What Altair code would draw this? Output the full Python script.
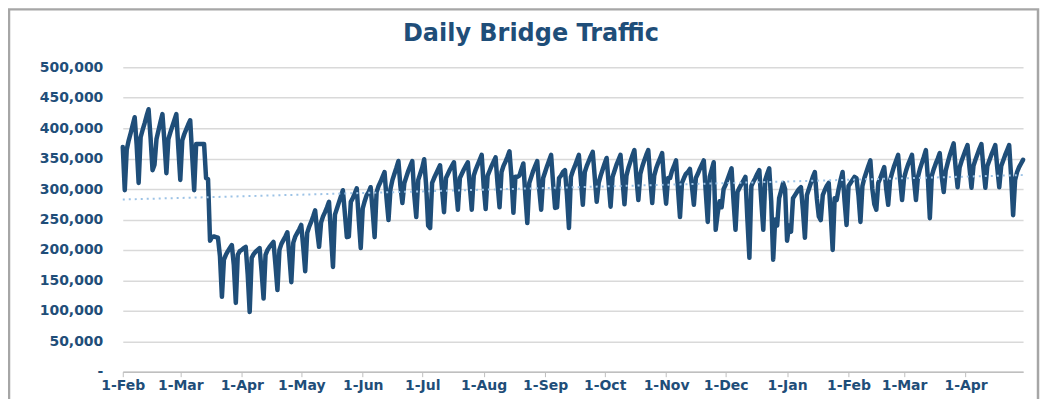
import altair as alt
import pandas as pd

# Daily traffic in thousands, one row per week (Sat, Sun, Mon, Tue, Wed, Thu, Fri)
# starting Saturday 1-Feb-2020
traffic_feb_may_2020 = [
    [369, 298, 365, 380, 392, 405, 418],
    [372, 310, 385, 397, 408, 420, 431],
    [385, 331, 340, 382, 396, 410, 423],
    [378, 326, 382, 393, 403, 413, 423],
    [368, 315, 380, 390, 398, 406, 413],
    [355, 298, 374, 374, 374, 374, 374],
    [318, 316, 215, 221, 222, 221, 220],
    [190, 123, 184, 192, 198, 203, 208],
    [175, 113, 192, 198, 200, 203, 205],
    [160, 98, 187, 193, 197, 200, 203],
    [165, 120, 192, 200, 205, 209, 213],
    [175, 134, 200, 210, 216, 222, 229],
    [190, 147, 212, 222, 228, 234, 241],
    [205, 165, 228, 238, 246, 255, 265],
    [232, 205, 245, 255, 262, 270, 279],
    [225, 172, 258, 268, 278, 288, 298],
]
traffic_may_aug_2020 = [
    [260, 221, 222, 279, 285, 293, 301],
    [250, 203, 268, 280, 290, 295, 303],
    [265, 221, 295, 305, 312, 320, 328],
    [285, 249, 300, 315, 325, 335, 346],
    [305, 277, 310, 320, 330, 338, 346],
    [290, 254, 315, 325, 335, 349, 305],
    [240, 236, 310, 318, 325, 332, 339],
    [300, 262, 318, 325, 332, 338, 344],
    [302, 266, 318, 325, 332, 338, 344],
    [305, 266, 322, 332, 340, 348, 356],
    [305, 267, 322, 330, 338, 345, 352],
    [308, 270, 328, 338, 345, 353, 362],
    [320, 261, 320, 320, 322, 332, 342],
    [290, 244, 310, 320, 330, 338, 346],
    [300, 266, 318, 328, 338, 347, 356],
    [310, 269, 270, 318, 322, 328, 331],
]
traffic_sep_dec_2020 = [
    [290, 236, 320, 330, 338, 347, 356],
    [315, 274, 328, 338, 346, 354, 361],
    [320, 279, 310, 322, 332, 342, 351],
    [310, 271, 320, 330, 340, 348, 356],
    [315, 275, 322, 335, 345, 355, 364],
    [320, 282, 325, 337, 347, 356, 364],
    [318, 277, 322, 334, 343, 351, 359],
    [310, 276, 318, 318, 330, 338, 347],
    [300, 254, 310, 318, 325, 328, 333],
    [305, 274, 318, 325, 333, 340, 347],
    [295, 246, 320, 332, 344, 233, 260],
    [280, 270, 300, 307, 316, 325, 334],
    [280, 233, 295, 302, 308, 314, 320],
    [250, 187, 305, 312, 318, 325, 331],
    [280, 233, 315, 325, 334, 280, 184],
    [250, 240, 285, 297, 310, 300, 215],
]
traffic_jan_apr_2021 = [
    [240, 230, 285, 290, 295, 300, 303],
    [265, 220, 290, 300, 310, 320, 328],
    [285, 255, 249, 290, 298, 305, 310],
    [260, 200, 285, 282, 300, 315, 328],
    [280, 241, 305, 310, 315, 320, 318],
    [290, 246, 305, 318, 328, 338, 347],
    [300, 275, 266, 310, 318, 327, 336],
    [300, 274, 315, 327, 338, 347, 356],
    [315, 282, 318, 330, 340, 348, 356],
    [315, 282, 320, 333, 343, 353, 364],
    [318, 252, 322, 333, 342, 350, 359],
    [320, 295, 330, 343, 355, 365, 375],
    [335, 303, 335, 346, 355, 364, 372],
    [335, 302, 338, 348, 357, 366, 374],
    [335, 302, 338, 347, 356, 364, 372],
    [335, 303, 338, 347, 356, 364, 372],
    [320, 257, 315, 328, 336, 342, 348],
]

month_ticks = [
    "2020-02-01", "2020-03-01", "2020-04-01", "2020-05-01", "2020-06-01",
    "2020-07-01", "2020-08-01", "2020-09-01", "2020-10-01", "2020-11-01",
    "2020-12-01", "2021-01-01", "2021-02-01", "2021-03-01", "2021-04-01",
]
y_ticks = [0, 50000, 100000, 150000, 200000, 250000, 300000, 350000, 400000, 450000, 500000]

weeks = traffic_feb_may_2020 + traffic_may_aug_2020 + traffic_sep_dec_2020 + traffic_jan_apr_2021
values = [v * 1000 for w in weeks for v in w]
dates = pd.date_range("2020-02-01", periods=len(values), freq="D")
epoch = pd.Timestamp("1970-01-01")
ts = [int((d - epoch) / pd.Timedelta(milliseconds=1)) for d in dates]

df = pd.DataFrame({"date": dates.strftime("%Y-%m-%d"), "t": ts, "value": values})

def dt(s):
    y, m, d = (int(p) for p in s.split("-"))
    return alt.DateTime(year=y, month=m, date=d, utc=True)

TXT = "#1F4E79"
FONT = "DejaVu Sans"

x_enc = alt.X(
    "t:T",
    title=None,
    scale=alt.Scale(type="utc", domain=[dt("2020-02-01"), dt("2021-04-30")], nice=False),
    axis=alt.Axis(
        values=[dt(s) for s in month_ticks],
        format="%-d-%b",
        labelFont=FONT, labelFontSize=14, labelFontWeight="bold", labelColor=TXT,
        labelFlush=False, labelOverlap=False, labelPadding=2,
        domainColor="#BFBFBF", domainWidth=1.5,
        tickColor="#BFBFBF", tickSize=5, tickWidth=1,
        grid=False,
    ),
)
y_enc = alt.Y(
    "value:Q",
    title=None,
    scale=alt.Scale(domain=[0, 500000], nice=False),
    axis=alt.Axis(
        values=y_ticks,
        labelExpr="datum.value == 0 ? '-\u00a0\u00a0\u00a0' : format(datum.value, ',')",
        labelFont=FONT, labelFontSize=14, labelFontWeight="bold", labelColor=TXT,
        labelPadding=20, ticks=False, domain=False, labelOverlap=False,
        grid=True, gridColor="#D9D9D9", gridWidth=1.5,
    ),
)

base = alt.Chart(df)
line = base.mark_line(color="#1F4E79", strokeWidth=4.5, strokeJoin="round", strokeCap="round").encode(
    x=x_enc, y=y_enc
)
trend = base.transform_regression("t", "value", method="linear").mark_line(
    color="#9DC3E6", strokeWidth=2, strokeDash=[2, 4]
).encode(x=x_enc, y=y_enc)

frame = alt.Chart(pd.DataFrame({"f": [0]})).mark_rect(
    filled=False, color="#A6A6A6", strokeWidth=2.5
).encode(
    x=alt.value(-114), x2=alt.value(917), y=alt.value(-58), y2=alt.value(345)
)

chart = alt.layer(frame, line, trend).properties(
    width=902,
    height=305,
    title=alt.TitleParams(
        "Daily Bridge Traffic",
        font=FONT, fontSize=24, fontWeight="bold", color=TXT,
        anchor="middle", frame="group", dx=-42, baseline="alphabetic", offset=-57,
    ),
    autosize=alt.AutoSizeParams(type="none"),
    padding={"left": 115, "top": 59, "right": 22, "bottom": 27},
    background="white",
).configure_view(strokeWidth=0)

chart.save("out.html", embed_options={"renderer": "svg", "actions": False})
